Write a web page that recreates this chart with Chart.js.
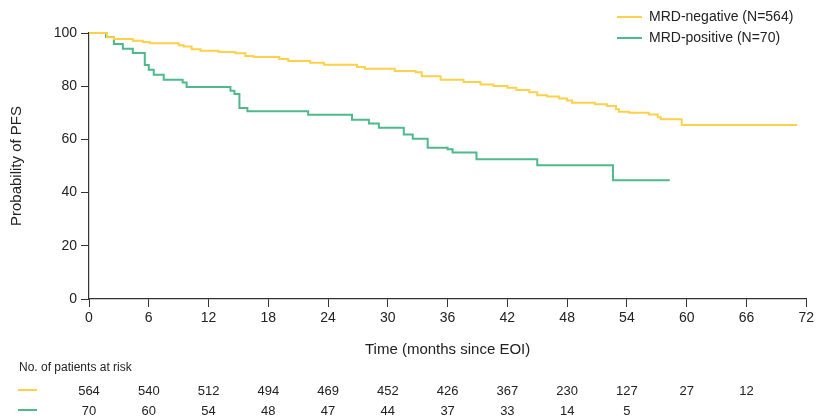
<!DOCTYPE html>
<html>
<head>
<meta charset="utf-8">
<title>PFS by MRD status</title>
<script src="https://cdn.jsdelivr.net/npm/chart.js@4.4.1/dist/chart.umd.min.js"></script>
<style>
  html, body { margin: 0; padding: 0; background: #fff; }
  #km_canvas { display: block; }
</style>
</head>
<body>
<canvas id="km_canvas" width="817" height="418"></canvas>
<script>
// Series labels
var seriesLabels = ['MRD-negative (N=564)', 'MRD-positive (N=70)'];

// MRD-negative curve: month of each drop and PFS (%) after it
var negTimes = [0, 1.8, 2.5, 4.4, 5.4, 6.1, 9.0, 9.5, 10.3, 11.2, 13.0, 14.7, 15.7, 16.5, 19.1, 20.0, 22.2, 23.6,
                26.9, 27.7, 30.7, 32.8, 33.4, 35.3, 37.6, 39.3, 40.6, 42.0, 42.9, 44.2, 45.0, 46.0, 47.2, 48.0,
                48.5, 50.8, 52.0, 52.9, 53.2, 54.2, 56.2, 57.1, 57.4, 59.5, 71.1];
var negSurv  = [100, 98.4, 97.7, 97.1, 96.6, 96.1, 95.4, 94.9, 93.9, 93.3, 92.9, 92.4, 91.4, 91.0, 90.2, 89.5, 88.8, 88.1,
                87.2, 86.6, 85.7, 85.2, 83.7, 82.4, 81.6, 80.6, 80.1, 79.4, 78.6, 77.7, 76.6, 76.1, 75.4, 74.6,
                73.8, 73.2, 72.6, 71.3, 70.4, 70.0, 69.4, 68.3, 67.6, 65.4, 65.4];

// MRD-positive curve
var posTimes = [0, 1.7, 2.5, 3.4, 4.4, 5.6, 6.0, 6.5, 7.5, 9.4, 9.8, 14.2, 14.6, 15.1, 15.9, 22.0, 26.4, 28.1,
                29.1, 31.6, 32.5, 34.0, 36.0, 36.5, 38.9, 45.0, 52.6, 58.3];
var posSurv  = [100, 98.5, 95.9, 94.1, 92.5, 88.0, 86.2, 84.3, 82.4, 81.4, 79.7, 78.3, 77.1, 71.8, 70.6, 69.3, 67.4, 66.0,
                64.4, 61.8, 60.2, 56.9, 56.3, 55.1, 52.5, 50.3, 44.6, 44.6];

// Numbers at risk
var riskTimes = [0, 6, 12, 18, 24, 30, 36, 42, 48, 54, 60, 66];
var riskNeg   = [564, 540, 512, 494, 469, 452, 426, 367, 230, 127, 27, 12];
var riskPos   = [70, 60, 54, 48, 47, 44, 37, 33, 14, 5];

(function () {
    var FONT = '"Liberation Sans", Arial, sans-serif';
    var colors = ['#FFD04A', '#4DBA8C'];
    var textColor = '#222';

    /**
     * Zip time/value arrays into chart points
     */
    function toPoints(times, values) {
        var pts = [];
        for (var i = 0; i < times.length; i++) {
            pts.push({x: times[i], y: values[i]});
        }
        return pts;
    }

    /**
     * Legend in the top right corner and the risk table under the axis
     */
    var extrasPlugin = {
        id: 'kmExtras',
        afterDraw: function (chart) {
            var ctx = chart.ctx;
            var xScale = chart.scales.x;
            ctx.save();

            // legend
            ctx.font = '14px ' + FONT;
            ctx.textBaseline = 'middle';
            ctx.textAlign = 'left';
            var legendY = [17, 38];
            for (var i = 0; i < seriesLabels.length; i++) {
                ctx.strokeStyle = colors[i];
                ctx.lineWidth = 2;
                ctx.beginPath();
                ctx.moveTo(617, legendY[i]);
                ctx.lineTo(642, legendY[i]);
                ctx.stroke();
                ctx.fillStyle = textColor;
                ctx.fillText(seriesLabels[i], 649, legendY[i]);
            }

            // risk table
            ctx.font = '12px ' + FONT;
            ctx.fillText('No. of patients at risk', 19, 368);
            var rows = [riskNeg, riskPos];
            var rowY = [390, 410];
            ctx.font = '13px ' + FONT;
            ctx.textAlign = 'center';
            for (var r = 0; r < rows.length; r++) {
                ctx.strokeStyle = colors[r];
                ctx.lineWidth = 2;
                ctx.beginPath();
                ctx.moveTo(18, rowY[r]);
                ctx.lineTo(37, rowY[r]);
                ctx.stroke();
                ctx.fillStyle = textColor;
                for (var k = 0; k < rows[r].length; k++) {
                    ctx.fillText(String(rows[r][k]), xScale.getPixelForValue(riskTimes[k]), rowY[r] + 1);
                }
            }
            ctx.restore();
        }
    };

    var axisColor = '#333';
    var tickFont = {family: FONT, size: 14};

    new Chart(document.getElementById('km_canvas').getContext('2d'), {
        type: 'line',
        data: {
            datasets: [{
                label: seriesLabels[0],
                data: toPoints(negTimes, negSurv),
                borderColor: colors[0],
                borderWidth: 2,
                stepped: 'before',
                pointRadius: 0,
                clip: 4,
                fill: false,
                order: 0
            }, {
                label: seriesLabels[1],
                data: toPoints(posTimes, posSurv),
                borderColor: colors[1],
                borderWidth: 2,
                stepped: 'before',
                pointRadius: 0,
                clip: 4,
                fill: false,
                order: 1
            }]
        },
        options: {
            responsive: false,
            animation: false,
            layout: {padding: {top: 33, right: 10, bottom: 57, left: 0}},
            plugins: {legend: {display: false}, tooltip: {enabled: false}},
            scales: {
                x: {
                    type: 'linear',
                    min: 0,
                    max: 72,
                    ticks: {stepSize: 6, color: textColor, font: tickFont, padding: 3, maxRotation: 0},
                    grid: {drawOnChartArea: false, drawTicks: true, tickLength: 8, color: axisColor},
                    border: {display: true, color: axisColor, width: 1.2},
                    title: {display: true, text: 'Time (months since EOI)', color: textColor,
                            font: {family: FONT, size: 15}, padding: {top: 4, bottom: 2}},
                    afterFit: function (s) { s.height = 62; }
                },
                y: {
                    min: 0,
                    max: 100,
                    ticks: {stepSize: 20, color: textColor, font: tickFont, padding: 4},
                    grid: {drawOnChartArea: false, drawTicks: true, tickLength: 8, color: axisColor},
                    border: {display: true, color: axisColor, width: 1.2},
                    title: {display: true, text: 'Probability of PFS', color: textColor,
                            font: {family: FONT, size: 15}, padding: {top: 8, bottom: 0}},
                    afterFit: function (s) { s.width = 89; }
                }
            }
        },
        plugins: [extrasPlugin]
    });
})();
</script>
</body>
</html>
